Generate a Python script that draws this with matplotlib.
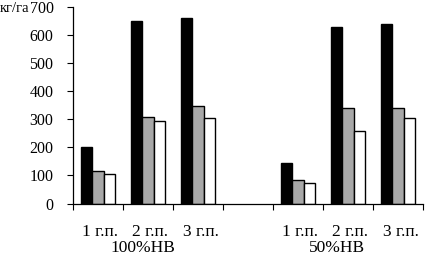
import numpy as np
import matplotlib
matplotlib.use("Agg")
import matplotlib.pyplot as plt

plt.rcParams['font.family'] = ['Liberation Serif', 'DejaVu Serif']

categories = ["1 г.п.", "2 г.п.", "3 г.п.", "", "1 г.п.", "2 г.п.", "3 г.п."]
series_black = [200, 648, 659, np.nan, 143, 627, 638]
series_gray = [115, 308, 347, np.nan, 85, 341, 341]
series_white = [106, 292, 303, np.nan, 74, 257, 303]
groups = ["100%НВ", "50%НВ"]
yticks = [0, 100, 200, 300, 400, 500, 600, 700]

W, H = 425, 256
fig = plt.figure(figsize=(W / 100, H / 100), dpi=100)
ax = fig.add_axes([73 / W, 1 - 203.5 / H, 350 / W, (203.5 - 6.7) / H])

x = np.arange(len(categories))
bw = 0.23
style = dict(edgecolor='black', linewidth=1.0)
ax.bar(x - bw, series_black, bw, color='black', **style)
ax.bar(x, series_gray, bw, color='#a8a8a8', **style)
ax.bar(x + bw, series_white, bw, color='white', **style)

ax.set_xlim(-0.5, len(categories) - 0.5)
ax.set_ylim(0, 700)
ax.set_yticks(yticks)
ax.tick_params(axis='y', direction='out', length=4, width=0.8, pad=10, labelsize=11.5)

ax.set_xticks(np.arange(len(categories) + 1) - 0.5)
ax.set_xticklabels([])
ax.set_xticks(x + 0.05, minor=True)
ax.set_xticklabels(categories, minor=True)
ax.tick_params(axis='x', which='major', direction='out', length=4, width=0.8)
ax.tick_params(axis='x', which='minor', length=0, pad=15, labelsize=12.5)

for s in ['top', 'right']:
    ax.spines[s].set_visible(False)
for s in ['left', 'bottom']:
    ax.spines[s].set_linewidth(0.9)

fig.text(0.0, 1 - 8 / H, "кг/га", ha='left', va='center', fontsize=10.5)
fig.text(143 / W, 1 - 248.5 / H, groups[0], ha='center', va='center', fontsize=12.5)
fig.text(337 / W, 1 - 248.5 / H, groups[1], ha='center', va='center', fontsize=12.5)

fig.savefig("out.png", dpi=100)
